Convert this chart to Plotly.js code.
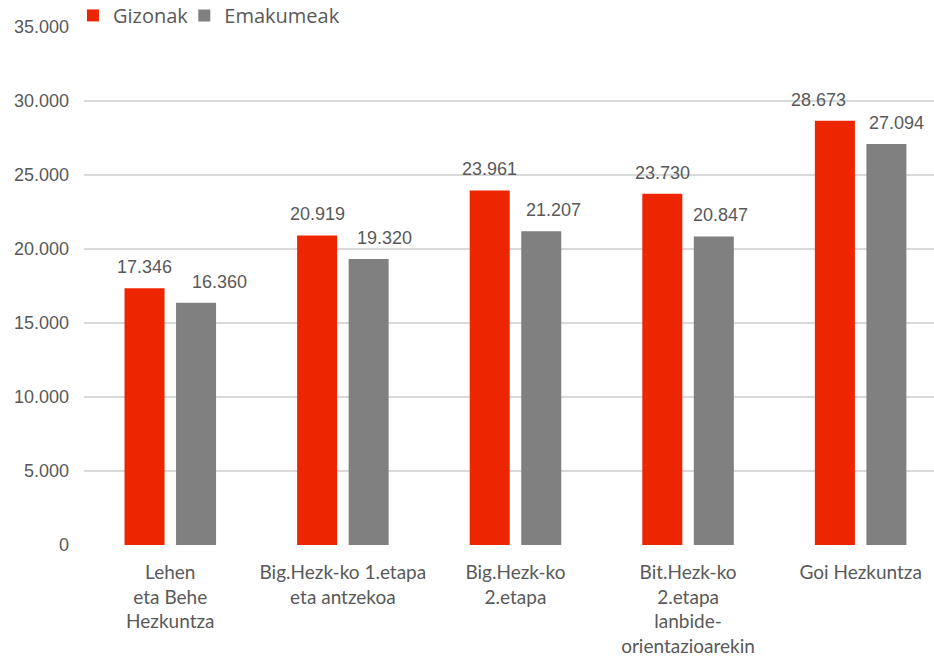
<!DOCTYPE html>
<html>
<head>
<meta charset="utf-8">
<script src="https://cdn.plot.ly/plotly-3.0.1.min.js"></script>
<style>html,body{margin:0;padding:0;background:#fff;}#chart{width:934px;height:663px;}</style>
</head>
<body>
<div id="chart"></div>
<script>
var categories = ["Lehen<br>eta Behe<br>Hezkuntza", "Big.Hezk-ko 1.etapa<br>eta antzekoa", "Big.Hezk-ko<br>2.etapa", "Bit.Hezk-ko<br>2.etapa<br>lanbide-<br>orientazioarekin", "Goi Hezkuntza"];
var gizonak = [17346, 20919, 23961, 23730, 28673];
var emakumeak = [16360, 19320, 21207, 20847, 27094];
var seriesNames = ["Gizonak", "Emakumeak"];
var yTicks = [0, 5000, 10000, 15000, 20000, 25000, 30000, 35000];

// label nudges in pixels (layout only), as placed in the original to avoid overlaps
var labelNudgeRed = [0, 0, 0, 0, -16.5];
var labelNudgeGrey = [23.5, 15.5, 12.5, 6.5, 10];

var RED = "#EE2600", GREY = "#808080", TXT = "#595959";
function fmt(v) { return String(v).replace(/\B(?=(\d{3})+(?!\d))/g, "."); }
var idx = categories.map(function (c, i) { return i; });

var traces = [
  {type: "bar", name: seriesNames[0], x: idx, y: gizonak, marker: {color: RED}, hoverinfo: "none", legend: "legend"},
  {type: "bar", name: seriesNames[1], x: idx, y: emakumeak, marker: {color: GREY}, hoverinfo: "none", legend: "legend2"}
];

var annotations = [];
[[gizonak, -25.7, labelNudgeRed], [emakumeak, 25.7, labelNudgeGrey]].forEach(function (cfg) {
  cfg[0].forEach(function (v, i) {
    annotations.push({
      x: i, y: v, xref: "x", yref: "y", text: fmt(v), showarrow: false,
      xshift: cfg[1] + cfg[2][i], yanchor: "bottom", yshift: 9,
      font: {family: "Liberation Sans, Arial, sans-serif", size: 18, color: TXT}
    });
  });
});

var legendFont = {family: "Open Sans, sans-serif", size: 20, color: TXT};
var layout = {
  width: 934, height: 663,
  margin: {l: 84, r: 0, t: 27, b: 118, autoexpand: false},
  paper_bgcolor: "#fff", plot_bgcolor: "#fff",
  separators: ",.",
  barmode: "group", bargap: 0.403, bargroupgap: 0.223,
  showlegend: true,
  legend: {orientation: "h", x: -0.013, xanchor: "left", y: 1.06, yanchor: "top",
    font: legendFont, itemwidth: 30, bgcolor: "rgba(0,0,0,0)"},
  legend2: {orientation: "h", x: 0.118, xanchor: "left", y: 1.06, yanchor: "top",
    font: legendFont, itemwidth: 30, bgcolor: "rgba(0,0,0,0)"},
  xaxis: {range: [-0.5, 4.425], tickmode: "array", tickvals: idx, ticktext: categories,
    showgrid: false, zeroline: false, showline: false, ticks: "",
    tickfont: {family: "Lato, sans-serif", size: 19, color: TXT}, ticklabelstandoff: 14},
  yaxis: {range: [0, 35000], tickmode: "array", tickvals: yTicks, ticktext: yTicks.map(fmt),
    showgrid: true, gridcolor: "#D9D9D9", gridwidth: 1.5, zeroline: false, showline: false, ticks: "",
    tickfont: {family: "Liberation Sans, Arial, sans-serif", size: 18, color: TXT}, ticklabelstandoff: 14},
  annotations: annotations
};

Plotly.newPlot("chart", traces, layout, {displayModeBar: false, staticPlot: true});
</script>
</body>
</html>
